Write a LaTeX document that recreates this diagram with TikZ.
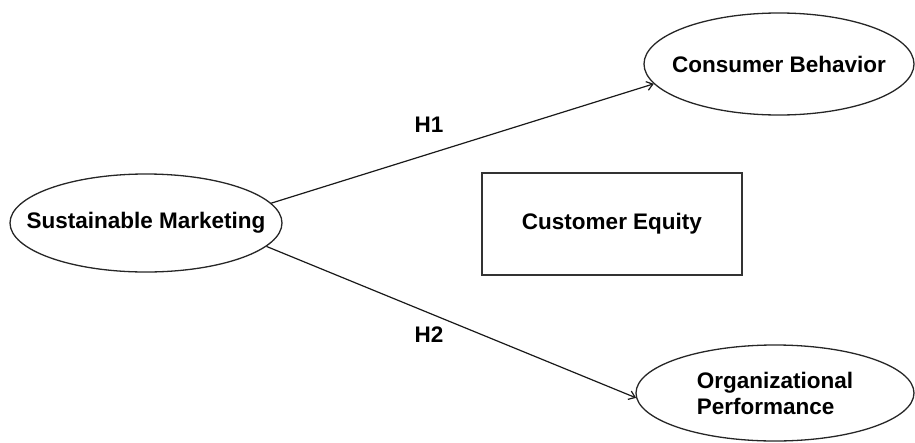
\documentclass[tikz,border=0pt]{standalone}
\usepackage{fontspec}
\setmainfont{Liberation Sans}
\usetikzlibrary{shapes.geometric,arrows.meta}
\begin{document}
\begin{tikzpicture}[x=1pt,y=-1pt,
  every node/.style={font=\fontsize{22.5}{26}\selectfont\bfseries, text=black},
  construct/.style={ellipse, draw=black!85, line width=1.3pt,
    inner xsep=-40pt, inner ysep=-10pt},
  mediator/.style={rectangle, draw=black!80, line width=1.8pt, inner sep=0pt,
    minimum width=260pt, minimum height=102pt},
  path/.style={draw=black!90, line width=1.2pt,
    -{Straight Barb[length=6pt,width=9pt,line width=1.2pt]}},
  hyp/.style={inner sep=0pt}
]
\useasboundingbox (0,0) rectangle (915,442);

% constructs of the model
\node[construct, minimum width=272pt, minimum height=98pt] (sm) at (146,223) {Sustainable Marketing};
\node[construct, minimum width=270pt, minimum height=102pt] (cb) at (779,64) {Consumer Behavior};
\node[construct, minimum width=278pt, minimum height=96pt, align=left] (op) at (775,393) {Organizational\\Performance};
\node[mediator] (ce) at (612,224) {Customer Equity};

% hypothesised paths
\draw[path] (sm.9) -- (cb.189);
\draw[path] (sm.-11) -- (op.182);

% hypothesis labels
\node[hyp] (h1) at (429,125) {H1};
\node[hyp] (h2) at (429,335) {H2};
\end{tikzpicture}
\end{document}
